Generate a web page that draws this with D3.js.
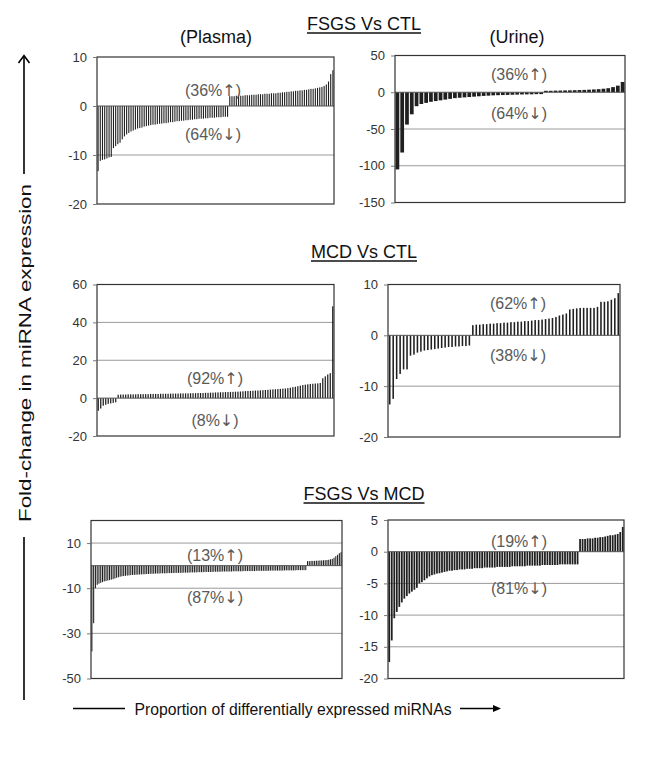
<!DOCTYPE html>
<html><head><meta charset="utf-8">
<script src="https://cdn.jsdelivr.net/npm/d3@7"></script>
<style>
html,body{margin:0;padding:0;background:#fff;}
svg{display:block;font-family:"Liberation Sans",Arial,sans-serif;}
</style></head>
<body><svg id="chart" width="649" height="764"></svg>
<script>
// ---- Data (fold-change values, sorted low to high) ----
const fsgsCtlPlasma = [-13.3,-11.2,-11.0,-10.9,-10.7,-10.5,-10.4,-8.6,-8.2,-7.8,-7.5,-6.8,-6.2,-5.8,-5.5,-5.2,-5.0,-4.8,-4.6,-4.5,
  -4.4,-4.2,-4.1,-4.0,-3.9,-3.8,-3.8,-3.7,-3.6,-3.6,-3.5,-3.5,-3.4,-3.3,-3.3,-3.2,-3.1,-3.1,-3.0,-3.0,
  -2.9,-2.9,-2.8,-2.8,-2.7,-2.7,-2.6,-2.6,-2.6,-2.5,-2.5,-2.4,-2.4,-2.4,-2.3,-2.3,-2.3,-2.2,-2.2,-2.2,
  2.0,2.0,2.0,2.1,2.1,2.1,2.1,2.2,2.2,2.2,2.3,2.3,2.3,2.4,2.4,2.4,2.5,2.5,2.5,2.6,2.6,2.6,2.7,2.7,
  2.8,2.8,2.9,2.9,3.0,3.0,3.1,3.1,3.2,3.2,3.3,3.3,3.4,3.5,3.5,3.6,3.7,3.8,3.9,4.1,4.4,5.0,6.5,7.3];
const fsgsCtlUrine = [-105,-82,-44,-30,-19,-16,-14.5,-13,-12,-11,-10,-9,-8,-7.5,-7,-6.5,-6,-5.5,-5,-4.6,
  -4.2,-4,-3.8,-3.6,-3.4,-3.2,-3.0,-2.9,-2.8,-2.6,-2.5,
  2,2,2.2,2.3,2.5,2.6,2.8,3,3.2,3.5,3.8,4.2,4.8,5.5,7,9,14];
const mcdCtlPlasma = [-6.7,-5.5,-4.0,-3.5,-3.0,-2.8,-2.5,-2.2,
  1.8,1.9,1.9,1.9,2.0,2.0,2.0,2.0,2.1,2.1,2.1,2.1,2.1,2.2,2.2,2.2,2.2,2.3,2.3,2.3,
  2.3,2.4,2.4,2.4,2.4,2.5,2.5,2.5,2.5,2.6,2.6,2.6,2.7,2.7,2.7,2.8,2.8,2.9,2.9,3.0,
  3.0,3.1,3.1,3.2,3.2,3.3,3.3,3.4,3.4,3.5,3.6,3.7,3.8,3.8,3.9,4.0,4.0,4.1,4.2,4.3,
  4.4,4.5,4.6,4.7,4.8,4.9,5.0,5.1,5.3,5.5,5.8,6.0,6.3,6.6,6.9,7.1,7.3,7.5,7.6,7.7,
  7.8,8.0,10.5,11.5,12.5,13.2,48.5];
const mcdCtlUrine = [-13.6,-12.5,-8.6,-7.6,-6.7,-6.7,-4.0,-3.8,-3.4,-3.2,-3.0,-2.9,-2.8,-2.7,-2.6,-2.5,-2.4,-2.3,-2.3,-2.2,-2.2,-2.1,-2.1,-2.0,
  2.0,2.1,2.1,2.2,2.2,2.3,2.3,2.4,2.4,2.5,2.5,2.6,2.6,2.7,2.7,2.8,2.8,2.9,3.0,3.0,3.1,3.2,3.3,3.4,
  3.6,3.9,4.1,4.3,5.1,5.2,5.3,5.4,5.4,5.4,5.4,5.4,5.6,6.6,6.6,6.7,7.0,7.3,8.3];
const fsgsMcdPlasma = [-38,-25.5,-10,-8.5,-8,-7.6,-7.3,-7,-6.8,-6.6,
  -6.4,-6.2,-6.0,-5.7,-5.4,-5.1,-4.9,-4.7,-4.6,-4.5,
  -4.4,-4.3,-4.2,-4.1,-4.1,-4.0,-4.0,-3.9,-3.9,-3.8,
  -3.8,-3.7,-3.7,-3.6,-3.6,-3.6,-3.5,-3.5,-3.5,-3.4,
  -3.4,-3.4,-3.4,-3.3,-3.3,-3.3,-3.3,-3.2,-3.2,-3.2,
  -3.2,-3.2,-3.1,-3.1,-3.1,-3.1,-3.0,-3.0,-3.0,-3.0,
  -2.9,-2.9,-2.9,-2.9,-2.8,-2.8,-2.8,-2.8,-2.8,-2.7,
  -2.7,-2.7,-2.7,-2.7,-2.6,-2.6,-2.6,-2.6,-2.6,-2.6,
  -2.5,-2.5,-2.5,-2.5,-2.5,-2.5,-2.4,-2.4,-2.4,-2.4,
  -2.4,-2.4,-2.4,-2.3,-2.3,-2.3,-2.3,-2.3,-2.3,-2.3,
  -2.3,-2.2,-2.2,-2.2,-2.2,-2.2,-2.2,-2.2,-2.2,-2.1,
  -2.1,-2.1,-2.1,-2.1,-2.1,-2.1,-2.0,-2.0,-2.0,-2.0,
  -2.0,-2.0,
  2.0,2.0,2.1,2.1,2.1,2.2,2.2,2.3,2.3,2.4,2.4,2.5,2.6,2.8,3.0,3.5,4.2,4.8,5.5,6.0];
const fsgsMcdUrine = [-17.4,-14,-10.5,-9.5,-8.7,-8,-7.4,-7,-6.6,-6.3,
  -6.0,-5.7,-5.0,-4.8,-4.5,-4.2,-3.9,-3.7,-3.6,-3.45,
  -3.4,-3.3,-3.2,-3.1,-3.0,-3.0,-2.9,-2.9,-2.8,-2.8,
  -2.8,-2.7,-2.7,-2.7,-2.6,-2.6,-2.6,-2.6,-2.5,-2.5,
  -2.5,-2.5,-2.5,-2.4,-2.4,-2.4,-2.4,-2.4,-2.4,-2.3,
  -2.3,-2.3,-2.3,-2.3,-2.3,-2.2,-2.2,-2.2,-2.2,-2.2,
  -2.2,-2.1,-2.1,-2.1,-2.1,-2.1,-2.1,-2.1,-2.0,-2.0,
  -2.0,-2.0,-2.0,-2.0,-2.0,-2.0,
  2.0,2.0,2.0,2.1,2.1,2.1,2.2,2.2,2.3,2.3,2.4,2.5,2.6,2.6,2.7,2.8,3.1,3.9];

// ---- Tick values ----
const ticksFsgsCtlPlasma = [10,0,-10,-20];
const ticksFsgsCtlUrine = [50,0,-50,-100,-150];
const ticksMcdCtlPlasma = [60,40,20,0,-20];
const ticksMcdCtlUrine = [10,0,-10,-20];
const ticksFsgsMcdPlasma = [10,-10,-30,-50];
const ticksFsgsMcdUrine = [5,0,-5,-10,-15,-20];

// ---- Text ----
const comparisonTitles = ["FSGS Vs CTL","MCD Vs CTL","FSGS Vs MCD"];
const sampleTitles = ["(Plasma)","(Urine)"];
const upPercents = ["36%","36%","92%","62%","13%","19%"];
const downPercents = ["64%","64%","8%","38%","87%","81%"];
const yAxisTitle = "Fold-change in miRNA expression";
const xAxisTitle = "Proportion of differentially expressed miRNAs";

// ---- Layout ----
const panels = [
  {data:fsgsCtlPlasma, dom:[-20,10], ticks:ticksFsgsCtlPlasma, x0:97, x1:334, y0:57, y1:204, pad:0.5, tx:213, upY:96, dnY:140},
  {data:fsgsCtlUrine, dom:[-150,50], ticks:ticksFsgsCtlUrine, x0:395, x1:625, y0:55.5, y1:202.5, pad:0.22, tx:519, upY:80, dnY:119},
  {data:mcdCtlPlasma, dom:[-20,60], ticks:ticksMcdCtlPlasma, x0:97, x1:334, y0:284.5, y1:436, pad:0.5, tx:215, upY:384, dnY:426},
  {data:mcdCtlUrine, dom:[-20,10], ticks:ticksMcdCtlUrine, x0:388, x1:620, y0:284.5, y1:437, pad:0.55, tx:518, upY:309, dnY:361},
  {data:fsgsMcdPlasma, dom:[-50,20], ticks:ticksFsgsMcdPlasma, x0:91, x1:342, y0:520.5, y1:678.5, pad:0.4, tx:215, upY:561, dnY:603},
  {data:fsgsMcdUrine, dom:[-20,5], ticks:ticksFsgsMcdUrine, x0:388, x1:624, y0:520, y1:678.5, pad:0.3, tx:519, upY:547, dnY:594}
];

const svg = d3.select("#chart");
const barColor = "#1f1f1f";

function addLabel(g, x, y, pct, arrow) {
  const t = g.append("text").attr("x", x).attr("y", y).attr("text-anchor", "middle")
    .attr("font-size", 16).attr("fill", "#5a5a5a");
  t.append("tspan").text("(" + pct);
  t.append("tspan").attr("font-family", "DejaVu Sans, sans-serif").attr("font-size", 16).text(arrow);
  t.append("tspan").text(")");
}

panels.forEach((p, k) => {
  const x = d3.scaleBand().domain(d3.range(p.data.length)).range([p.x0, p.x1]).paddingInner(p.pad).paddingOuter(p.pad/2);
  const y = d3.scaleLinear().domain(p.dom).range([p.y1, p.y0]);
  const g = svg.append("g");
  g.selectAll("line.grid").data(p.ticks.filter(t => t !== p.dom[0] && t !== p.dom[1] && t !== 0))
    .enter().append("line")
    .attr("x1", p.x0).attr("x2", p.x1)
    .attr("y1", d => y(d)).attr("y2", d => y(d))
    .attr("stroke", "#9a9a9a").attr("stroke-width", 1);
  g.selectAll("rect.bar").data(p.data).enter().append("rect")
    .attr("x", (d,i) => x(i))
    .attr("width", x.bandwidth())
    .attr("y", d => d >= 0 ? y(d) : y(0))
    .attr("height", d => Math.abs(y(d) - y(0)))
    .attr("fill", barColor);
  g.append("line").attr("x1", p.x0).attr("x2", p.x1)
    .attr("y1", y(0)).attr("y2", y(0)).attr("stroke", "#555").attr("stroke-width", 1);
  g.append("rect").attr("x", p.x0).attr("y", p.y0).attr("width", p.x1 - p.x0).attr("height", p.y1 - p.y0)
    .attr("fill", "none").attr("stroke", "#333").attr("stroke-width", 1.2);
  const ax = g.append("g").attr("transform", `translate(${p.x0},0)`)
    .call(d3.axisLeft(y).tickValues(p.ticks).tickSize(4).tickPadding(6).tickFormat(d => String(d)));
  ax.select(".domain").remove();
  ax.selectAll(".tick line").attr("stroke", "#777");
  ax.selectAll(".tick text").attr("font-size", 13).attr("fill", "#333")
    .attr("font-family", "Liberation Sans, Arial, sans-serif");
  addLabel(g, p.tx, p.upY, upPercents[k], "\u2191");
  addLabel(g, p.tx, p.dnY, downPercents[k], "\u2193");
});

const titleY = [30, 258, 500];
comparisonTitles.forEach((t, i) => {
  const tx = svg.append("text").attr("x", 364).attr("y", titleY[i]).attr("text-anchor", "middle")
    .attr("font-size", 18).attr("fill", "#111").text(t);
  const w = tx.node().getComputedTextLength();
  svg.append("line").attr("x1", 364 - w/2).attr("x2", 364 + w/2)
    .attr("y1", titleY[i] + 3).attr("y2", titleY[i] + 3).attr("stroke", "#111").attr("stroke-width", 1.3);
});
[216, 517].forEach((cx, i) => {
  svg.append("text").attr("x", cx).attr("y", 43).attr("text-anchor", "middle")
    .attr("font-size", 18).attr("fill", "#111").text(sampleTitles[i]);
});

svg.append("text").attr("transform", "translate(31,353) rotate(-90)").attr("text-anchor", "middle")
  .attr("font-size", 17).attr("fill", "#111").attr("textLength", 338).attr("lengthAdjust", "spacingAndGlyphs")
  .text(yAxisTitle);
svg.append("line").attr("x1", 24).attr("x2", 24).attr("y1", 56).attr("y2", 174).attr("stroke", "#000").attr("stroke-width", 1.6);
svg.append("path").attr("d", "M18.5,63 L24,55.5 L29.5,63").attr("fill", "none").attr("stroke", "#000").attr("stroke-width", 1.6);
svg.append("line").attr("x1", 24).attr("x2", 24).attr("y1", 537).attr("y2", 700).attr("stroke", "#000").attr("stroke-width", 1.6);

svg.append("text").attr("x", 293).attr("y", 715).attr("text-anchor", "middle")
  .attr("font-size", 16).attr("fill", "#111").attr("textLength", 317).attr("lengthAdjust", "spacingAndGlyphs")
  .text(xAxisTitle);
svg.append("line").attr("x1", 73).attr("x2", 125).attr("y1", 708.5).attr("y2", 708.5).attr("stroke", "#000").attr("stroke-width", 1.3);
svg.append("line").attr("x1", 460).attr("x2", 495).attr("y1", 708.5).attr("y2", 708.5).attr("stroke", "#000").attr("stroke-width", 1.3);
svg.append("path").attr("d", "M493,705 L501,708.5 L493,712 Z").attr("fill", "#000");
</script></body></html>
